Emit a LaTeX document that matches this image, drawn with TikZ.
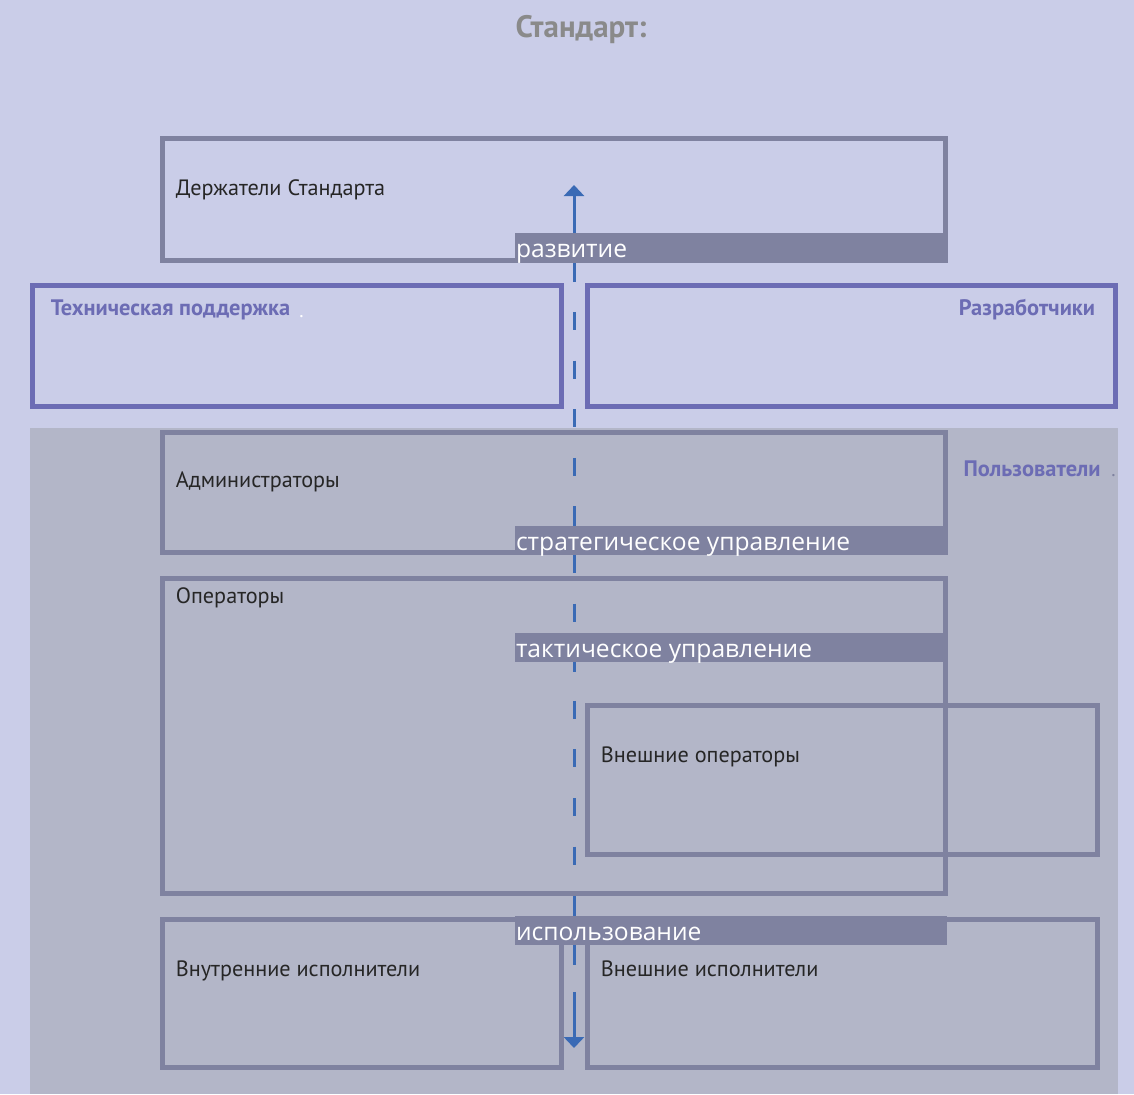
\documentclass[tikz,border=0pt]{standalone}
\usepackage{fontspec}
\setmainfont{PT Sans}
\newfontfamily\bandfont{Open Sans}
\usetikzlibrary{arrows.meta,calc,fit}
\definecolor{bgpale}{RGB}{202,205,232}
\definecolor{bggray}{RGB}{179,182,200}
\definecolor{frame}{RGB}{127,130,160}
\definecolor{roleviolet}{RGB}{108,108,180}
\definecolor{flowblue}{RGB}{58,106,181}
\definecolor{titlegray}{RGB}{138,138,138}
\tikzset{
role/.style={draw=frame, line width=2.5pt, inner sep=0pt},
group/.style={draw=roleviolet, line width=2.5pt, inner sep=0pt},
rolelabel/.style={anchor=base west, inner sep=0pt, text=black!85,
  font=\fontsize{11.1}{13}\selectfont},
grouplabel/.style={inner sep=0pt, text=roleviolet,
  font=\bfseries\fontsize{11.2}{13}\selectfont},
band/.style={fill=frame, inner sep=0pt},
bandlabel/.style={anchor=base west, inner sep=0pt, text=white,
  font=\bandfont\fontsize{12.3}{14}\selectfont},
flow/.style={draw=flowblue, line width=1.5pt},
flowtip/.style={-{Triangle[width=10pt,length=5.5pt]}}
}
\begin{document}
\begin{tikzpicture}[x=0.5pt,y=-0.5pt]
\fill[bgpale] (0,0) rectangle (1134,1094);
\useasboundingbox (0,0) rectangle (1134,1094);
\fill[bggray] (30,428) rectangle (1118,1094);

\node[font=\bfseries\fontsize{15.5}{18}\selectfont, text=titlegray] (title) at (581,30) {Стандарт:};

% flow (under the frames and bands)
\coordinate (flowtop) at (574,185);
\coordinate (flowbot) at (574,1048);
\coordinate (dashA) at (574,312);
\coordinate (dashB) at (574,995);
\draw[flow, dash pattern=on 9pt off 15.3pt] (dashA) -- (dashB);
\draw[flow, flowtip] (574,282) -- (flowtop);
\draw[flow] (574,507) -- (574,573);
\draw[flow] (574,640) -- (574,672);
\draw[flow] (574,897) -- (574,965);
\draw[flow, flowtip] (dashB) -- (flowbot);

% groups
\node[group, fit={(32,285) (561,406)}] (support) {};
\node[group, fit={(587,285) (1115,406)}] (devs) {};
\node[grouplabel, anchor=base west] (supportlbl) at ($(support.north west)+(21,33)$) {Техническая поддержка};
\node[inner sep=0pt, anchor=base west, text=white, font=\fontsize{10}{12}\selectfont] (supportdot) at (299,317) {.};
\node[grouplabel, anchor=base east] (devslbl) at ($(devs.north east)+(-22,33)$) {Разработчики};
\node[grouplabel, anchor=base east] (userslbl) at (1101,476) {Пользователи};
\node[inner sep=0pt, anchor=base west, text=frame, font=\fontsize{10}{12}\selectfont] (usersdot) at (1111,476) {.};

% roles
\node[role, fit={(162,138) (945,260)}] (holders) {};
\node[role, fit={(162,432) (945,552)}] (admins) {};
\node[role, fit={(162,578) (945,893)}] (operators) {};
\node[role, fit={(587,705) (1097,854)}] (extops) {};
\node[role, fit={(162,919) (561,1067)}] (intexec) {};
\node[role, fit={(587,919) (1097,1067)}] (extexec) {};

\node[rolelabel] (holderslbl) at ($(holders.north west)+(16,60)$) {Держатели Стандарта};
\node[rolelabel] (adminslbl) at ($(admins.north west)+(16,58)$) {Администраторы};
\node[rolelabel] (operatorslbl) at ($(operators.north west)+(16,28)$) {Операторы};
\node[rolelabel] (extopslbl) at ($(extops.north west)+(16,60)$) {Внешние операторы};
\node[rolelabel] (intexeclbl) at ($(intexec.north west)+(16,60)$) {Внутренние исполнители};
\node[rolelabel] (extexeclbl) at ($(extexec.north west)+(16,60)$) {Внешние исполнители};

% levels
\node[band, fit={(515,233) (947,262)}] (devband) {};
\node[band, fit={(515,526) (947,555)}] (stratband) {};
\node[band, fit={(515,633) (945,662)}] (tactband) {};
\node[band, fit={(515,916) (947,945)}] (useband) {};
\node[bandlabel] (devtxt) at ($(devband.south west)+(1,-5)$) {развитие};
\node[bandlabel] (strattxt) at ($(stratband.south west)+(1,-5)$) {стратегическое управление};
\node[bandlabel] (tacttxt) at ($(tactband.south west)+(1,-5)$) {тактическое управление};
\node[bandlabel] (usetxt) at ($(useband.south west)+(1,-5)$) {использование};
\end{tikzpicture}
\end{document}
